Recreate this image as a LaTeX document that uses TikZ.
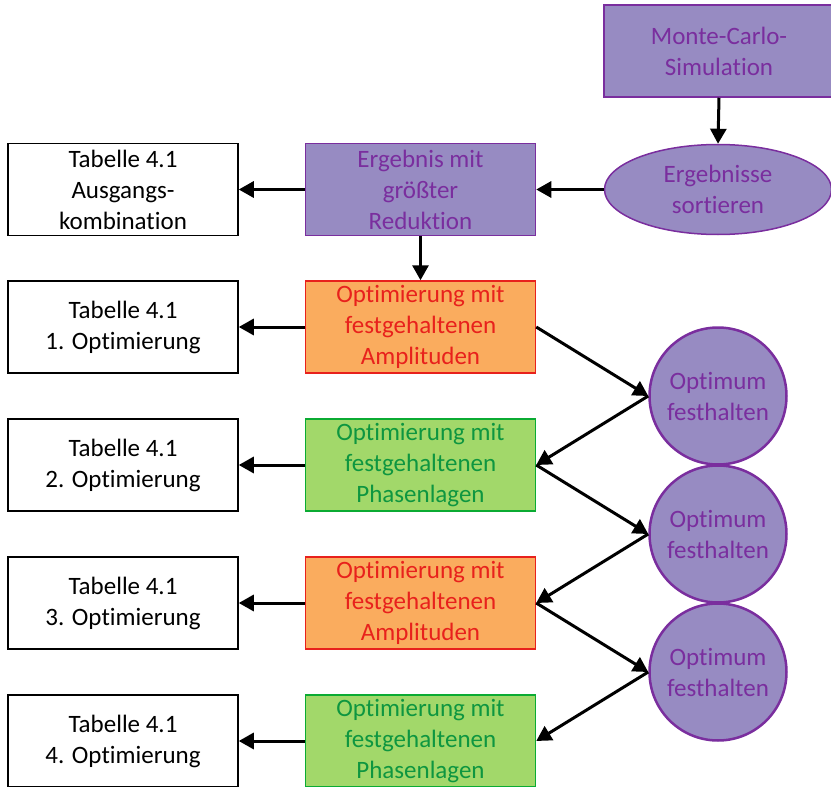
\documentclass[tikz,border=0pt]{standalone}
\usepackage{fontspec}
\setmainfont{Carlito}[Ligatures={NoCommon,NoContextual,NoRare}]
\usetikzlibrary{shapes.geometric,arrows.meta}
\definecolor{pfill}{HTML}{978BC2}
\definecolor{ptext}{HTML}{7A2E9E}
\definecolor{ofill}{HTML}{FAAC5E}
\definecolor{otext}{HTML}{E8211C}
\definecolor{gfill}{HTML}{A2D86A}
\definecolor{gtext}{HTML}{0E9640}
\tikzset{
  base/.style={draw, line width=1.5pt, align=center, inner sep=0pt,
    font=\fontsize{25}{31}\selectfont},
  tab/.style={base, rectangle, fill=white, text=black, draw=black, minimum width=230pt, minimum height=92pt},
  pbox/.style={base, rectangle, fill=pfill, text=ptext, draw=ptext, minimum width=230pt, minimum height=92pt},
  obox/.style={base, rectangle, fill=ofill, text=otext, draw=otext, minimum width=230pt, minimum height=92pt},
  gbox/.style={base, rectangle, fill=gfill, text=gtext, draw=gtext!80!green, minimum width=230pt, minimum height=92pt},
  pell/.style={base, ellipse, fill=pfill, text=ptext, draw=ptext, minimum width=227pt, minimum height=90pt},
  pcirc/.style={base, circle, fill=pfill, text=ptext, draw=ptext, line width=2.5pt, minimum size=137pt},
  arr/.style={line width=3pt, -{Triangle[length=15pt,width=16pt]}}
}
\begin{document}
\begin{tikzpicture}[x=1pt,y=-1pt]
\useasboundingbox (0,0) rectangle (831,787);
\node[pbox] (mc) at (719,51) {Monte-Carlo-\\Simulation};
\node[pell] (es) at (718,189.5) {Ergebnisse\\sortieren};
\node[pbox] (eg) at (420.5,189.5) {Ergebnis mit\\größter\\Reduktion};
\node[tab] (t0) at (123,189.5) {Tabelle 4.1\\Ausgangs-\\kombination};
\node[obox] (o1) at (420.5,327) {Optimierung mit\\festgehaltenen\\Amplituden};
\node[tab] (t1) at (123,327) {Tabelle 4.1\\1. Optimierung};
\node[gbox] (g1) at (420.5,465) {Optimierung mit\\festgehaltenen\\Phasenlagen};
\node[tab] (t2) at (123,465) {Tabelle 4.1\\2. Optimierung};
\node[obox] (o2) at (420.5,603) {Optimierung mit\\festgehaltenen\\Amplituden};
\node[tab] (t3) at (123,603) {Tabelle 4.1\\3. Optimierung};
\node[gbox] (g2) at (420.5,741) {Optimierung mit\\festgehaltenen\\Phasenlagen};
\node[tab] (t4) at (123,741) {Tabelle 4.1\\4. Optimierung};
\node[pcirc] (c1) at (718,396) {Optimum\\festhalten};
\node[pcirc] (c2) at (718,534) {Optimum\\festhalten};
\node[pcirc] (c3) at (718,672) {Optimum\\festhalten};
\draw[arr] (mc.south) -- (es.north);
\draw[arr] (es.west) -- (eg.east);
\draw[arr] (eg.west) -- (t0.east);
\draw[arr] (eg.south) -- (o1.north);
\draw[arr] (o1.west) -- (t1.east);
\draw[arr] (g1.west) -- (t2.east);
\draw[arr] (o2.west) -- (t3.east);
\draw[arr] (g2.west) -- (t4.east);
\draw[arr] (o1.east) -- (c1.west);
\draw[arr] (c1.west) -- (g1.east);
\draw[arr] (g1.east) -- (c2.west);
\draw[arr] (c2.west) -- (o2.east);
\draw[arr] (o2.east) -- (c3.west);
\draw[arr] (c3.west) -- (g2.east);
\end{tikzpicture}
\end{document}
